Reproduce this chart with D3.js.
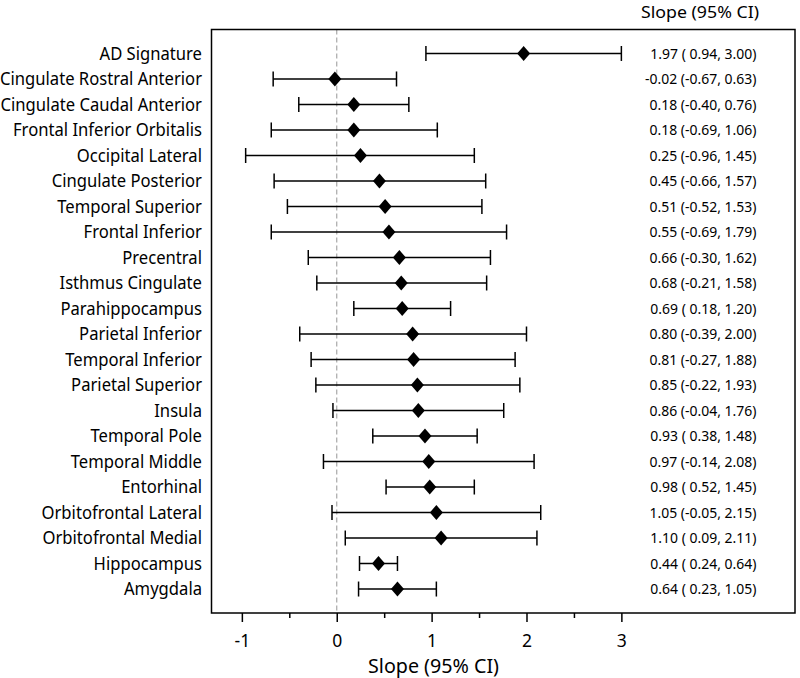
<!DOCTYPE html>
<html><head><meta charset="utf-8">
<script src="https://cdn.jsdelivr.net/npm/d3@7"></script>
<style>body{margin:0;background:#fff}</style>
</head><body>
<svg id="chart" width="800" height="678"></svg>
<script>
const regions = ["AD Signature","Cingulate Rostral Anterior","Cingulate Caudal Anterior","Frontal Inferior Orbitalis","Occipital Lateral","Cingulate Posterior","Temporal Superior","Frontal Inferior","Precentral","Isthmus Cingulate","Parahippocampus","Parietal Inferior","Temporal Inferior","Parietal Superior","Insula","Temporal Pole","Temporal Middle","Entorhinal","Orbitofrontal Lateral","Orbitofrontal Medial","Hippocampus","Amygdala"];
const estimates = [1.97,-0.02,0.18,0.18,0.25,0.45,0.51,0.55,0.66,0.68,0.69,0.80,0.81,0.85,0.86,0.93,0.97,0.98,1.05,1.10,0.44,0.64];
const lower = [0.94,-0.67,-0.40,-0.69,-0.96,-0.66,-0.52,-0.69,-0.30,-0.21,0.18,-0.39,-0.27,-0.22,-0.04,0.38,-0.14,0.52,-0.05,0.09,0.24,0.23];
const upper = [3.00,0.63,0.76,1.06,1.45,1.57,1.53,1.79,1.62,1.58,1.20,2.00,1.88,1.93,1.76,1.48,2.08,1.45,2.15,2.11,0.64,1.05];
const majorTicks = [-1,0,1,2,3];
const minorTicks = [-0.5,0.5,1.5,2.5];
const axisTitle = "Slope (95% CI)";
const columnHeader = "Slope (95% CI)";

const data = regions.map((r,i)=>({name:r, est:estimates[i], lo:lower[i], hi:upper[i]}));

const svg = d3.select("#chart");
const box = {l:211.5, r:795, t:29.5, b:613};
const font = "'Noto Sans', 'Open Sans', sans-serif";
const locale = d3.formatLocale({decimal:".", thousands:",", grouping:[3], currency:["",""], minus:"-"});
const f2 = locale.format(".2f");

// compress text horizontally so the widest item spans targetW
function fit(sel, targetW){
  let maxW = 0;
  sel.each(function(){ maxW = Math.max(maxW, this.getComputedTextLength()); });
  const k = targetW / maxW;
  sel.each(function(){
    const w = this.getComputedTextLength();
    d3.select(this).attr("textLength", w*k).attr("lengthAdjust","spacingAndGlyphs");
  });
}

const x = d3.scaleLinear().domain([-1.32, 4.83]).range([box.l, box.r]);
const y = d3.scalePoint().domain(regions).range([box.t, box.b]).padding(0.94);

// reference line at 0
svg.append("line")
  .attr("x1", x(0)).attr("x2", x(0))
  .attr("y1", box.t).attr("y2", box.b)
  .attr("stroke", "#a8a8a8").attr("stroke-width", 1.2)
  .attr("stroke-dasharray", "5,3");

// error bars
const rows = svg.append("g").selectAll("g.row").data(data).join("g").attr("class","row");
rows.append("line")
  .attr("x1", d=>x(d.lo)).attr("x2", d=>x(d.hi))
  .attr("y1", d=>y(d.name)).attr("y2", d=>y(d.name))
  .attr("stroke","#000").attr("stroke-width",1.5);
rows.append("line")
  .attr("x1", d=>x(d.lo)).attr("x2", d=>x(d.lo))
  .attr("y1", d=>y(d.name)-7.5).attr("y2", d=>y(d.name)+7.5)
  .attr("stroke","#000").attr("stroke-width",1.5);
rows.append("line")
  .attr("x1", d=>x(d.hi)).attr("x2", d=>x(d.hi))
  .attr("y1", d=>y(d.name)-7.5).attr("y2", d=>y(d.name)+7.5)
  .attr("stroke","#000").attr("stroke-width",1.5);
rows.append("path")
  .attr("d","M0,-7.5L6.5,0L0,7.5L-6.5,0Z")
  .attr("transform", d=>`translate(${x(d.est)},${y(d.name)})`)
  .attr("fill","#000");

// box
svg.append("rect")
  .attr("x", box.l).attr("y", box.t)
  .attr("width", box.r-box.l).attr("height", box.b-box.t)
  .attr("fill","none").attr("stroke","#000").attr("stroke-width",1.5);

// axes
const ax = svg.append("g").attr("transform",`translate(0,${box.b})`)
  .call(d3.axisBottom(x).tickValues(majorTicks).tickSize(9).tickSizeOuter(0).tickPadding(0).tickFormat(d=>String(d)));
ax.select(".domain").remove();
ax.selectAll("line").attr("stroke","#000").attr("stroke-width",1.5);
ax.selectAll("text").attr("font-family",font).attr("font-size",17.5).attr("fill","#000")
  .attr("dy",null).attr("y", 646.5 - box.b);
const axm = svg.append("g").attr("transform",`translate(0,${box.b})`)
  .call(d3.axisBottom(x).tickValues(minorTicks).tickSize(5).tickSizeOuter(0).tickFormat(""));
axm.select(".domain").remove();
axm.selectAll("line").attr("stroke","#000").attr("stroke-width",1.5);

const title = svg.append("text")
  .attr("x", 433.5).attr("y", 672.5)
  .attr("text-anchor","middle")
  .attr("font-family",font).attr("font-size",19.5).attr("fill","#000")
  .text(axisTitle);
fit(title, 131);

// left labels
const labels = svg.append("g").selectAll("text").data(data).join("text")
  .attr("x", 202).attr("y", d=>y(d.name)).attr("dy","0.36em")
  .attr("text-anchor","end")
  .attr("font-family",font).attr("font-size",17.2).attr("fill","#000")
  .text(d=>d.name);
fit(labels, 202);

// right values
const pad = v => (v>=0 ? " " : "") + f2(v);
const nums = svg.append("g").selectAll("text").data(data).join("text")
  .attr("x", 756.5).attr("y", d=>y(d.name)).attr("dy","0.36em")
  .attr("text-anchor","end")
  .attr("font-family",font).attr("font-size",14).attr("fill","#000")
  .text(d=>`${f2(d.est)} (${pad(d.lo)}, ${f2(d.hi)})`);
fit(nums, 111.5);

const header = svg.append("text")
  .attr("x", 700).attr("y", 18)
  .attr("text-anchor","middle")
  .attr("font-family",font).attr("font-size",16.5).attr("fill","#000")
  .text(columnHeader);
fit(header, 118);
</script>
</body></html>
